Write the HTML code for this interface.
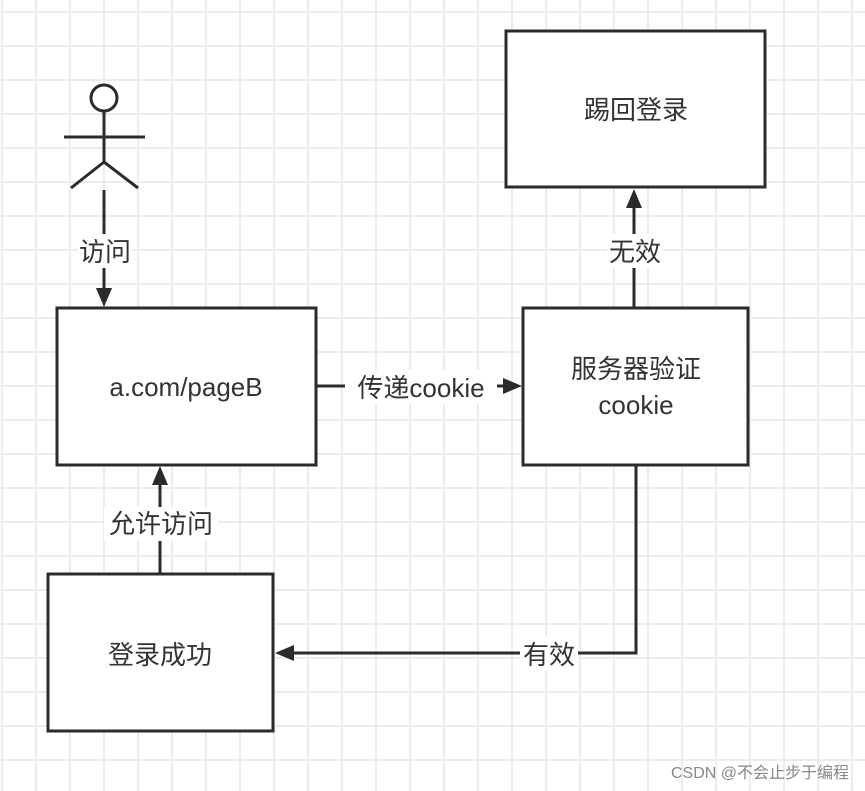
<!DOCTYPE html>
<html><head><meta charset="utf-8"><style>
body{margin:0;width:865px;height:791px;overflow:hidden;background:#fff;
background-image:linear-gradient(to right,#ececec 2px,transparent 2px),linear-gradient(to bottom,#ececec 2px,transparent 2px);
background-size:34px 34px;background-position:1px 11px;font-family:"Liberation Sans","Noto Sans CJK SC",sans-serif;}
</style></head><body>
<svg width="865" height="791" style="position:absolute;left:0;top:0" font-family="Liberation Sans, Noto Sans CJK SC, sans-serif">
<g stroke="#2b2b2b" stroke-width="3" fill="none">
<circle cx="104" cy="98" r="13" fill="#fff"/>
<line x1="104" y1="111" x2="104" y2="162"/>
<line x1="64" y1="137" x2="145" y2="137"/>
<line x1="104" y1="162" x2="71" y2="188"/>
<line x1="104" y1="162" x2="138" y2="188"/>
<line x1="104" y1="190" x2="104" y2="290"/>
<rect x="57" y="308" width="259" height="157" fill="#fff"/>
<rect x="523" y="308" width="225" height="157" fill="#fff"/>
<rect x="506" y="31" width="259" height="156" fill="#fff"/>
<rect x="48" y="574" width="225" height="157" fill="#fff"/>
<line x1="317" y1="386" x2="505" y2="386"/>
<line x1="634" y1="307" x2="634" y2="206"/>
<polyline points="636,465 636,653 292,653"/>
<line x1="160" y1="573" x2="160" y2="484"/>
</g>
<g fill="#2b2b2b">
<polygon points="96,288 112,288 104,307"/>
<polygon points="503,378 503,394 522,386"/>
<polygon points="626,208 642,208 634,189"/>
<polygon points="294,645 294,661 275,653"/>
<polygon points="152,485 168,485 160,466"/>
</g>
<g font-size="26" fill="#333" text-anchor="middle">
<rect x="78" y="234" width="54" height="34" fill="#fff"/>
<text x="105" y="261">访问</text>
<rect x="345" y="370" width="152" height="34" fill="#fff"/>
<text x="421" y="397">传递cookie</text>
<rect x="607" y="234" width="56" height="34" fill="#fff"/>
<text x="635" y="261">无效</text>
<rect x="520" y="637" width="58" height="34" fill="#fff"/>
<text x="549" y="664">有效</text>
<rect x="104" y="507" width="114" height="34" fill="#fff"/>
<text x="161" y="533">允许访问</text>
<text x="186" y="396">a.com/pageB</text>
<text x="636" y="378">服务器验证</text>
<text x="636" y="414">cookie</text>
<text x="636" y="119">踢回登录</text>
<text x="160" y="664">登录成功</text>
</g>
<text x="849" y="778" font-size="16" fill="#888" text-anchor="end">CSDN @不会止步于编程</text>
</svg>
</body></html>
